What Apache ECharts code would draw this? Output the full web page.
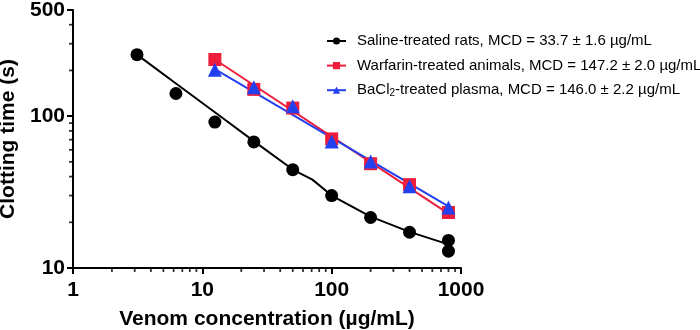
<!DOCTYPE html>
<html>
<head>
<meta charset="utf-8">
<script src="https://cdn.jsdelivr.net/npm/echarts@6/dist/echarts.min.js"></script>
<style>
    body { margin: 0; background: #fff; }
    #main { width: 700px; height: 330px; }
</style>
</head>
<body>
<div id="main"></div>
<script>
// 数据
var salineName = 'Saline-treated rats, MCD = 33.7 ± 1.6 µg/mL';
var warfarinName = 'Warfarin-treated animals, MCD = 147.2 ± 2.0 µg/mL';
var bacl2Name = 'BaCl2-treated plasma, MCD = 146.0 ± 2.2 µg/mL';

var salineX = [3.125, 6.25, 12.5, 25, 50, 100, 200, 400, 800, 800];
var salineY = [254, 141, 91.4, 67.6, 44.4, 30, 21.5, 17.2, 15.2, 12.9];
var salineFitX = [3.125, 6.25, 12.5, 25, 50, 71, 100, 200, 400, 800];
var salineFitY = [254, 164, 106, 68.5, 44.5, 38.2, 30, 21.8, 17.3, 14.3];

var warfarinX = [12.5, 25, 50, 100, 200, 400, 800];
var warfarinY = [236, 150, 113, 70.8, 48.6, 35.4, 23.2];
var warfarinFitX = [12.5, 800];
var warfarinFitY = [236, 22.8];

var bacl2X = [12.5, 25, 50, 100, 200, 400, 800];
var bacl2Y = [202, 155, 116, 68, 50.3, 34.5, 25];
var bacl2FitX = [12.5, 800];
var bacl2FitY = [204, 25.5];

// 次刻度
var xMinorTicks = [2, 3, 4, 5, 6, 7, 8, 9, 20, 30, 40, 50, 60, 70, 80, 90, 200, 300, 400, 500, 600, 700, 800, 900];
var yMinorTicks = [20, 30, 40, 50, 60, 70, 80, 90, 200, 300, 400];

function pairs(xs, ys) {
    var out = [];
    for (var i = 0; i < xs.length; i++) {
        out.push([xs[i], ys[i]]);
    }
    return out;
}

var fontName = 'Liberation Sans';
var black = '#000000';
var red = '#ee1d3c';
var blue = '#2440ee';

var myChart = echarts.init(document.getElementById('main'));

// 次刻度用小矩形画在轴外侧
var tickData = [];
for (var i = 0; i < xMinorTicks.length; i++) {
    tickData.push({value: [xMinorTicks[i], 10], symbolSize: [1.8, 4], symbolOffset: [0, 2]});
}
for (var j = 0; j < yMinorTicks.length; j++) {
    tickData.push({value: [1, yMinorTicks[j]], symbolSize: [4, 1.8], symbolOffset: [-2, 0]});
}

function fitSeries(name, color, symbol, xs, ys) {
    return {
        name: name,
        type: 'line',
        data: pairs(xs, ys),
        symbol: symbol,
        showSymbol: false,
        lineStyle: {color: color, width: 2},
        itemStyle: {color: color}
    };
}

function pointSeries(name, color, symbol, size, xs, ys) {
    return {
        name: name,
        type: 'scatter',
        data: pairs(xs, ys),
        symbol: symbol,
        symbolSize: size,
        itemStyle: {color: color, opacity: 1},
        z: 3
    };
}

var axisFont = {fontFamily: fontName, fontWeight: 'bold', fontSize: 21, color: '#000'};

var option = {
    animation: false,
    grid: {left: 73, right: 239, top: 10, bottom: 62, outerBoundsMode: 'none'},
    legend: {
        data: [salineName, warfarinName, bacl2Name],
        orient: 'vertical',
        left: 326,
        top: 32,
        padding: 0,
        itemWidth: 19,
        itemHeight: 9,
        itemGap: 6.6,
        formatter: function (name) {
            return name.replace('BaCl2', 'BaCl{sub|2}');
        },
        textStyle: {
            fontFamily: fontName,
            fontSize: 15,
            color: '#000',
            lineHeight: 18,
            padding: [0, 0, 0, 6],
            rich: {
                sub: {fontFamily: fontName, fontSize: 10, padding: [7, 0, 0, 0], color: '#000'}
            }
        }
    },
    xAxis: {
        type: 'log',
        min: 1,
        max: 1000,
        name: 'Venom concentration (µg/mL)',
        nameLocation: 'middle',
        nameGap: 41,
        nameTextStyle: axisFont,
        axisLine: {lineStyle: {color: '#000', width: 2}},
        axisTick: {show: true, length: 6, lineStyle: {color: '#000', width: 2}},
        splitLine: {show: false},
        axisLabel: {
            margin: 12, fontFamily: fontName, fontWeight: 'bold', fontSize: 21, color: '#000',
            formatter: function (v) { return String(v); }
        }
    },
    yAxis: {
        type: 'log',
        min: 10,
        max: 500,
        name: 'Clotting time (s)',
        nameLocation: 'middle',
        nameGap: 48,
        nameTextStyle: axisFont,
        axisLine: {lineStyle: {color: '#000', width: 2}},
        axisTick: {show: true, length: 6, lineStyle: {color: '#000', width: 2}},
        splitLine: {show: false},
        axisLabel: {
            margin: 8, fontFamily: fontName, fontWeight: 'bold', fontSize: 21, color: '#000',
            formatter: function (v) { return String(v); }
        }
    },
    series: [
        {
            type: 'scatter',
            data: tickData,
            symbol: 'rect',
            clip: false,
            itemStyle: {color: '#000'}
        },
        fitSeries(salineName, black, 'circle', salineFitX, salineFitY),
        fitSeries(warfarinName, red, 'rect', warfarinFitX, warfarinFitY),
        fitSeries(bacl2Name, blue, 'triangle', bacl2FitX, bacl2FitY),
        pointSeries('saline points', black, 'circle', 13, salineX, salineY),
        pointSeries('warfarin points', red, 'rect', 13, warfarinX, warfarinY),
        pointSeries('bacl2 points', blue, 'triangle', 14, bacl2X, bacl2Y)
    ]
};

myChart.setOption(option);
</script>
</body>
</html>
